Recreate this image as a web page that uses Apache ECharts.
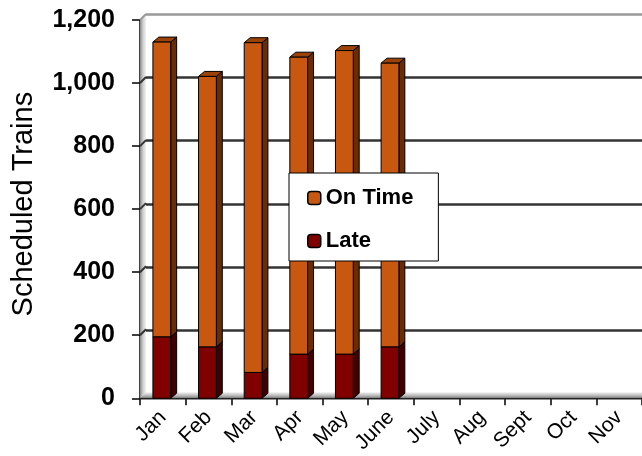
<!DOCTYPE html>
<html><head><meta charset="utf-8">
<script src="https://cdn.jsdelivr.net/npm/echarts@6/dist/echarts.min.js"></script>
<style>html,body{margin:0;padding:0;background:#fff}#c{width:642px;height:456px}</style>
</head><body><div id="c"></div>
<script>
const months = ['Jan','Feb','Mar','Apr','May','June','July','Aug','Sept','Oct','Nov'];
const late = [195, 163, 82, 140, 140, 163];
const onTime = [935, 858, 1046, 942, 963, 900];
const yMin = 0, yMax = 1200, yStep = 200;

const FONT = '"Liberation Sans", Arial, sans-serif';
const chart = echarts.init(document.getElementById('c'), null, {renderer: 'canvas'});

function prism(front, side, topc) {
  return function (params, api) {
    const i = api.value(0);
    const pb = api.coord([i, api.value(1)]);
    const pt = api.coord([i, api.value(2)]);
    const bw = api.size([1, 0])[0];
    const w = bw * 0.39, dx = bw * 0.13, dy = 5;
    const xl = pb[0] - w / 2 - 1, xr = xl + w;
    const yb = pb[1], yt = pt[1];
    const st = {stroke: '#000', lineWidth: 1};
    return {
      type: 'group',
      children: [
        {type: 'polygon', shape: {points: [[xr, yb], [xr + dx, yb - dy], [xr + dx, yt - dy], [xr, yt]]}, style: Object.assign({fill: side}, st)},
        {type: 'polygon', shape: {points: [[xl, yt], [xr, yt], [xr + dx, yt - dy], [xl + dx, yt - dy]]}, style: Object.assign({fill: topc}, st)},
        {type: 'rect', shape: {x: xl, y: yt, width: w, height: yb - yt}, style: Object.assign({fill: front}, st)}
      ]
    };
  };
}

const lateData = late.map((v, i) => [i, 0, v]);
const onData = onTime.map((v, i) => [i, late[i], late[i] + v]);

const option = {
  animation: false,
  backgroundColor: '#fff',
  grid: [
    {left: 140, top: 20, right: -4, bottom: 56},
    {left: 146, top: 14, right: -10, bottom: 62}
  ],
  xAxis: [
    {type: 'category', gridIndex: 0, data: months,
     axisLine: {show: false},
     axisTick: {show: true, length: 7, inside: false, lineStyle: {color: '#000', width: 1.5}, alignWithLabel: false},
     axisLabel: {rotate: 45, margin: 16, color: '#000', fontFamily: FONT, fontSize: 21, interval: 0},
     splitLine: {show: false}},
    {type: 'category', gridIndex: 1, data: months, show: false}
  ],
  yAxis: [
    {type: 'value', gridIndex: 0, min: yMin, max: yMax, interval: yStep,
     name: 'Scheduled Trains', nameLocation: 'middle', nameGap: 102,
     nameTextStyle: {color: '#000', fontFamily: FONT, fontSize: 29, padding: [0, 0, 0, 10]},
     axisLine: {show: true, lineStyle: {color: '#000', width: 1.5}},
     axisTick: {show: true, length: 8, lineStyle: {color: '#000', width: 1.5}},
     axisLabel: {margin: 25, color: '#000', fontFamily: FONT, fontSize: 25, fontWeight: 'bold',
                 formatter: v => v.toLocaleString('en-US')},
     splitLine: {show: false}},
    {type: 'value', gridIndex: 1, min: yMin, max: yMax, interval: yStep,
     axisLine: {show: false}, axisTick: {show: false}, axisLabel: {show: false},
     splitLine: {show: true, lineStyle: {color: ['#555', '#333', '#333', '#333', '#333', '#333', '#999'], width: 2.5}}}
  ],
  legend: {
    data: ['On Time', 'Late'],
    orient: 'vertical', left: 289, top: 173,
    padding: [14, 25, 9, 18],
    itemWidth: 13, itemHeight: 13, itemGap: 21,
    backgroundColor: '#fff', borderColor: '#000', borderWidth: 1, borderRadius: 0,
    itemStyle: {borderColor: '#000', borderWidth: 1.5},
    textStyle: {color: '#000', fontFamily: FONT, fontSize: 22, fontWeight: 'bold'},
    z: 10
  },
  series: [
    {name: 'Late', type: 'custom', xAxisIndex: 0, yAxisIndex: 0, z: 5,
     itemStyle: {color: '#800000'}, renderItem: prism('#800000', '#400000', '#5a0000'),
     encode: {x: 0, y: [1, 2]}, data: lateData},
    {name: 'On Time', type: 'custom', xAxisIndex: 0, yAxisIndex: 0, z: 5,
     itemStyle: {color: '#C8580F'}, renderItem: prism('#C8580F', '#6a2c05', '#9a4208'),
     encode: {x: 0, y: [1, 2]}, data: onData}
  ]
};
chart.setOption(option);

// 3D wall, floor and wall gridline slants
const x0 = 140, d = 6;
const yPx = v => chart.convertToPixel({yAxisIndex: 0}, v);
const yTop = yPx(yMax), yBot = yPx(yMin);
const W = 700;
const gfx = [
  {type: 'polygon', z: 1, silent: true,
   shape: {points: [[x0, yTop], [x0 + d, yTop - d], [x0 + d, yBot - d], [x0, yBot]]},
   style: {fill: new echarts.graphic.LinearGradient(0, 0, 1, 0, [{offset: 0, color: '#8a8a8a'}, {offset: 0.5, color: '#cfcfcf'}, {offset: 1, color: '#f2f2f2'}])}},
  {type: 'polygon', z: 1, silent: true,
   shape: {points: [[x0, yBot], [x0 + d, yBot - d], [W, yBot - d], [W, yBot]]},
   style: {fill: new echarts.graphic.LinearGradient(0, 0, 0, 1, [{offset: 0, color: '#f0f0f0'}, {offset: 0.6, color: '#b5b5b5'}, {offset: 1, color: '#777'}])}},
  {type: 'line', z: 1, silent: true, shape: {x1: x0, y1: yBot + 0.5, x2: W, y2: yBot + 0.5}, style: {stroke: '#222', lineWidth: 1.5}}
];
for (let v = yMin + yStep; v <= yMax; v += yStep) {
  const y = yPx(v);
  gfx.push({type: 'line', z: 1, silent: true, shape: {x1: x0, y1: y, x2: x0 + d, y2: y - d},
            style: {stroke: v === yMax ? '#999' : '#333', lineWidth: 2}});
}
chart.setOption({graphic: gfx});
</script>
</body></html>
